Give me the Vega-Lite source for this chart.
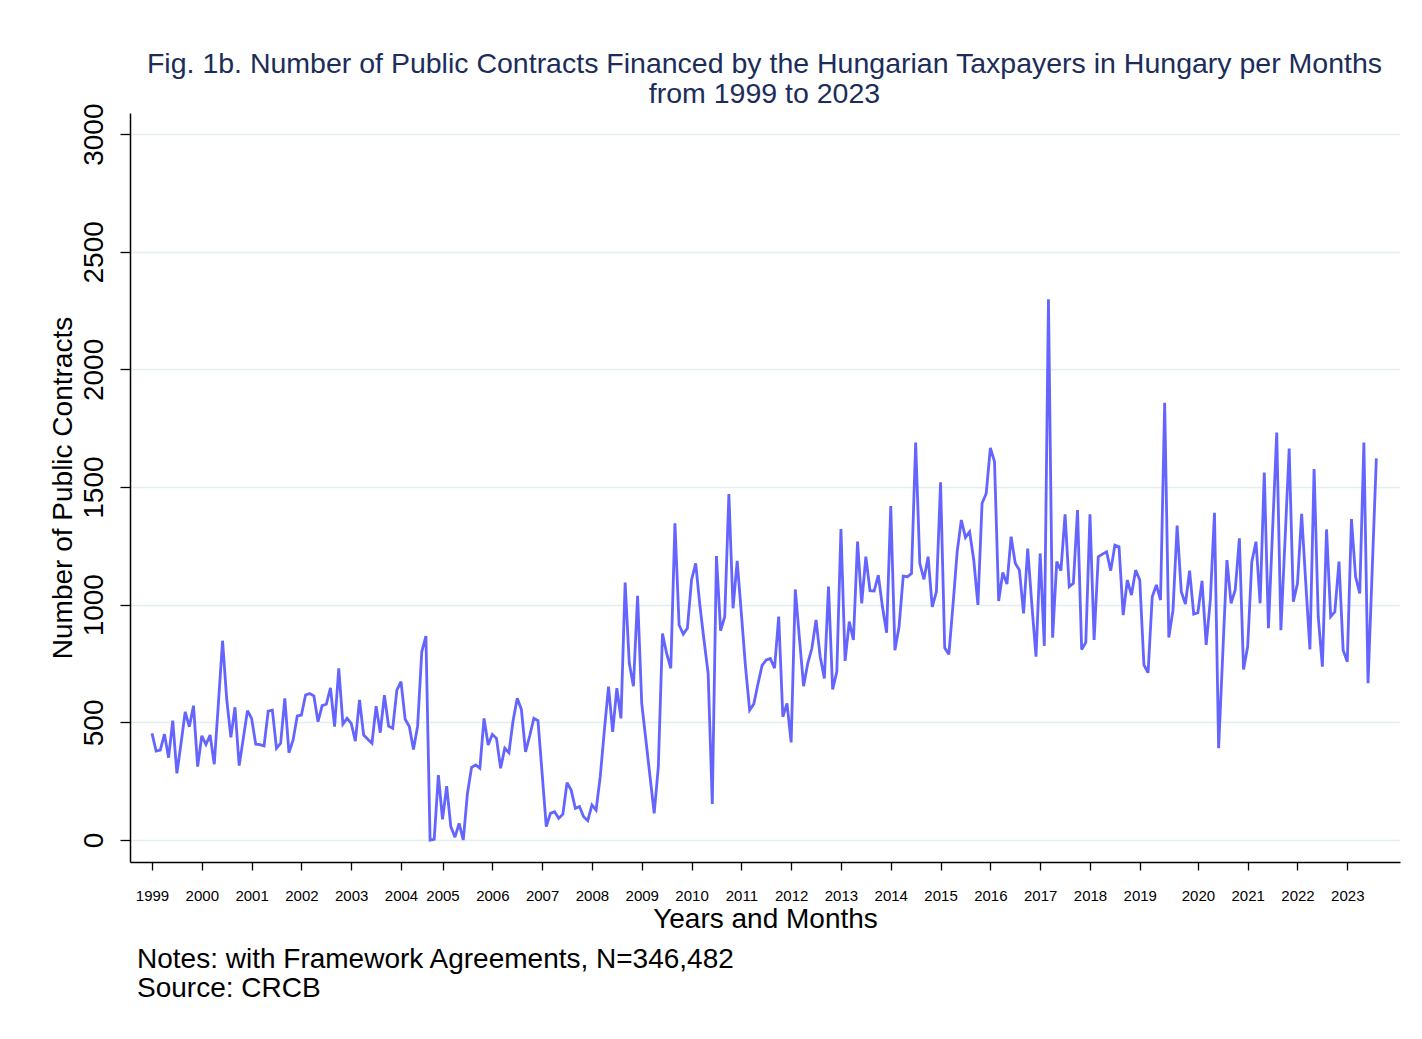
{
"$schema": "https://vega.github.io/schema/vega-lite/v6.json",
"autosize": "pad",
"padding": {"left": 49, "top": 49, "right": 22, "bottom": 30},
"background": "white",
"title": {"text": ["Fig. 1b. Number of Public Contracts Financed by the Hungarian Taxpayers in Hungary per Months", "from 1999 to 2023"], "font": "Liberation Sans", "fontSize": 28.5, "fontWeight": "normal", "color": "#1c2d5a", "anchor": "middle", "offset": -5, "dx": 40, "lineHeight": 30},
"config": {"view": {"stroke": null}, "concat": {"spacing": 0}},
"vconcat": [{
"width": 1270,
"height": 749,
"title": {"text": ["Notes: with Framework Agreements, N=346,482", "Source: CRCB"], "orient": "bottom", "anchor": "start", "frame": "group", "font": "Liberation Sans", "fontSize": 28, "fontWeight": "normal", "color": "#000000", "offset": 13, "lineHeight": 29, "dx": 7},
"data": {"values": [
{"i":0,"v":453},{"i":1,"v":378},{"i":2,"v":382},{"i":3,"v":450},{"i":4,"v":350},{"i":5,"v":507},{"i":6,"v":283},{"i":7,"v":411},{"i":8,"v":545},{"i":9,"v":481},
{"i":10,"v":571},{"i":11,"v":312},{"i":12,"v":443},{"i":13,"v":406},{"i":14,"v":446},{"i":15,"v":322},{"i":16,"v":581},{"i":17,"v":847},{"i":18,"v":600},{"i":19,"v":436},
{"i":20,"v":564},{"i":21,"v":316},{"i":22,"v":432},{"i":23,"v":550},{"i":24,"v":517},{"i":25,"v":407},{"i":26,"v":405},{"i":27,"v":400},{"i":28,"v":548},{"i":29,"v":552},
{"i":30,"v":390},{"i":31,"v":411},{"i":32,"v":602},{"i":33,"v":371},{"i":34,"v":425},{"i":35,"v":527},{"i":36,"v":531},{"i":37,"v":616},{"i":38,"v":623},{"i":39,"v":613},
{"i":40,"v":503},{"i":41,"v":571},{"i":42,"v":577},{"i":43,"v":647},{"i":44,"v":482},{"i":45,"v":730},{"i":46,"v":493},{"i":47,"v":517},{"i":48,"v":496},{"i":49,"v":420},
{"i":50,"v":595},{"i":51,"v":446},{"i":52,"v":428},{"i":53,"v":411},{"i":54,"v":569},{"i":55,"v":456},{"i":56,"v":616},{"i":57,"v":484},{"i":58,"v":475},{"i":59,"v":637},
{"i":60,"v":673},{"i":61,"v":513},{"i":62,"v":482},{"i":63,"v":385},{"i":64,"v":484},{"i":65,"v":800},{"i":66,"v":867},{"i":67,"v":0},{"i":68,"v":3},{"i":69,"v":276},
{"i":70,"v":88},{"i":71,"v":229},{"i":72,"v":57},{"i":73,"v":12},{"i":74,"v":71},{"i":75,"v":0},{"i":76,"v":198},{"i":77,"v":309},{"i":78,"v":319},{"i":79,"v":305},
{"i":80,"v":517},{"i":81,"v":404},{"i":82,"v":449},{"i":83,"v":432},{"i":84,"v":305},{"i":85,"v":390},{"i":86,"v":371},{"i":87,"v":507},{"i":88,"v":602},{"i":89,"v":555},
{"i":90,"v":375},{"i":91,"v":442},{"i":92,"v":517},{"i":93,"v":507},{"i":94,"v":283},{"i":95,"v":57},{"i":96,"v":113},{"i":97,"v":120},{"i":98,"v":92},{"i":99,"v":110},
{"i":100,"v":244},{"i":101,"v":212},{"i":102,"v":135},{"i":103,"v":142},{"i":104,"v":99},{"i":105,"v":82},{"i":106,"v":149},{"i":107,"v":127},{"i":108,"v":269},{"i":109,"v":467},
{"i":110,"v":652},{"i":111,"v":460},{"i":112,"v":645},{"i":113,"v":517},{"i":114,"v":1094},{"i":115,"v":751},{"i":116,"v":654},{"i":117,"v":1038},{"i":118,"v":581},{"i":119,"v":425},
{"i":120,"v":269},{"i":121,"v":113},{"i":122,"v":312},{"i":123,"v":878},{"i":124,"v":793},{"i":125,"v":730},{"i":126,"v":1346},{"i":127,"v":914},{"i":128,"v":875},{"i":129,"v":900},
{"i":130,"v":1105},{"i":131,"v":1176},{"i":132,"v":999},{"i":133,"v":850},{"i":134,"v":708},{"i":135,"v":153},{"i":136,"v":1207},{"i":137,"v":890},{"i":138,"v":949},{"i":139,"v":1470},
{"i":140,"v":985},{"i":141,"v":1186},{"i":142,"v":963},{"i":143,"v":737},{"i":144,"v":552},{"i":145,"v":578},{"i":146,"v":663},{"i":147,"v":742},{"i":148,"v":765},{"i":149,"v":771},
{"i":150,"v":730},{"i":151,"v":950},{"i":152,"v":524},{"i":153,"v":581},{"i":154,"v":415},{"i":155,"v":1065},{"i":156,"v":857},{"i":157,"v":654},{"i":158,"v":751},{"i":159,"v":815},
{"i":160,"v":935},{"i":161,"v":779},{"i":162,"v":687},{"i":163,"v":1077},{"i":164,"v":640},{"i":165,"v":715},{"i":166,"v":1322},{"i":167,"v":761},{"i":168,"v":928},{"i":169,"v":850},
{"i":170,"v":1268},{"i":171,"v":1006},{"i":172,"v":1204},{"i":173,"v":1060},{"i":174,"v":1058},{"i":175,"v":1126},{"i":176,"v":991},{"i":177,"v":881},{"i":178,"v":1419},{"i":179,"v":807},
{"i":180,"v":906},{"i":181,"v":1122},{"i":182,"v":1119},{"i":183,"v":1133},{"i":184,"v":1689},{"i":185,"v":1176},{"i":186,"v":1108},{"i":187,"v":1204},{"i":188,"v":991},{"i":189,"v":1055},
{"i":190,"v":1520},{"i":191,"v":817},{"i":192,"v":789},{"i":193,"v":999},{"i":194,"v":1225},{"i":195,"v":1360},{"i":196,"v":1286},{"i":197,"v":1310},{"i":198,"v":1190},{"i":199,"v":999},
{"i":200,"v":1431},{"i":201,"v":1473},{"i":202,"v":1667},{"i":203,"v":1608},{"i":204,"v":1016},{"i":205,"v":1137},{"i":206,"v":1088},{"i":207,"v":1289},{"i":208,"v":1176},{"i":209,"v":1147},
{"i":210,"v":963},{"i":211,"v":1239},{"i":212,"v":999},{"i":213,"v":779},{"i":214,"v":1218},{"i":215,"v":825},{"i":216,"v":2298},{"i":217,"v":860},{"i":218,"v":1183},{"i":219,"v":1145},
{"i":220,"v":1384},{"i":221,"v":1077},{"i":222,"v":1091},{"i":223,"v":1402},{"i":224,"v":810},{"i":225,"v":840},{"i":226,"v":1384},{"i":227,"v":850},{"i":228,"v":1204},{"i":229,"v":1215},
{"i":230,"v":1225},{"i":231,"v":1145},{"i":232,"v":1253},{"i":233,"v":1246},{"i":234,"v":956},{"i":235,"v":1105},{"i":236,"v":1041},{"i":237,"v":1147},{"i":238,"v":1105},{"i":239,"v":744},
{"i":240,"v":711},{"i":241,"v":1034},{"i":242,"v":1084},{"i":243,"v":1020},{"i":244,"v":1858},{"i":245,"v":861},{"i":246,"v":977},{"i":247,"v":1336},{"i":248,"v":1055},{"i":249,"v":1003},
{"i":250,"v":1145},{"i":251,"v":960},{"i":252,"v":966},{"i":253,"v":1101},{"i":254,"v":829},{"i":255,"v":1020},{"i":256,"v":1391},{"i":257,"v":390},{"i":258,"v":793},{"i":259,"v":1190},
{"i":260,"v":1006},{"i":261,"v":1063},{"i":262,"v":1282},{"i":263,"v":725},{"i":264,"v":822},{"i":265,"v":1183},{"i":266,"v":1268},{"i":267,"v":1006},{"i":268,"v":1562},{"i":269,"v":900},
{"i":270,"v":1317},{"i":271,"v":1732},{"i":272,"v":892},{"i":273,"v":1275},{"i":274,"v":1664},{"i":275,"v":1013},{"i":276,"v":1090},{"i":277,"v":1386},{"i":278,"v":1091},{"i":279,"v":810},
{"i":280,"v":1577},{"i":281,"v":949},{"i":282,"v":737},{"i":283,"v":1320},{"i":284,"v":949},{"i":285,"v":970},{"i":286,"v":1183},{"i":287,"v":807},{"i":288,"v":758},{"i":289,"v":1364},
{"i":290,"v":1119},{"i":291,"v":1048},{"i":292,"v":1689},{"i":293,"v":666},{"i":294,"v":1147},{"i":295,"v":1622}
]},
"mark": {"type": "line", "color": "#6464ff", "strokeWidth": 2.8, "strokeJoin": "miter", "strokeMiterLimit": 3},
"encoding": {
"x": {"field": "i", "type": "quantitative", "scale": {"domain": [-5.3, 300.7], "nice": false, "zero": false},
"axis": {"title": "Years and Months", "titleFont": "Liberation Sans", "titleFontSize": 28, "titleFontWeight": "normal", "titleColor": "#000000", "titlePadding": 2,
"values": [0,12,24,36,48,60,70,82,94,106,118,130,142,154,166,178,190,202,214,226,238,252,264,276,288],
"labelExpr": "datum.value < 66 ? toString(1999 + datum.value/12) : datum.value < 246 ? toString(2005 + (datum.value-70)/12) : toString(2020 + (datum.value-252)/12)",
"labelFont": "Liberation Sans", "labelFontSize": 15, "labelFontWeight": "normal", "labelColor": "#000000", "labelPadding": 18, "labelFlush": false, "labelOverlap": false,
"tickSize": 8, "tickColor": "#000000", "tickWidth": 1.3, "domainColor": "#000000", "domainWidth": 1.5, "grid": false}},
"y": {"field": "v", "type": "quantitative", "scale": {"domain": [-93.5, 3090], "nice": false, "zero": false},
"axis": {"title": "Number of Public Contracts", "titleFont": "Liberation Sans", "titleFontSize": 28, "titleFontWeight": "normal", "titleColor": "#000000", "titlePadding": 3,
"values": [0,500,1000,1500,2000,2500,3000], "format": "d",
"labelFont": "Liberation Sans", "labelFontSize": 28, "labelColor": "#000000", "labelAngle": -90, "labelAlign": "center", "labelBaseline": "bottom", "labelPadding": 12,
"tickSize": 10, "tickColor": "#000000", "tickWidth": 1.3, "domainColor": "#000000", "domainWidth": 1.5,
"grid": true, "gridColor": "#e4eef0", "gridWidth": 1.6}}
}
}]
}
